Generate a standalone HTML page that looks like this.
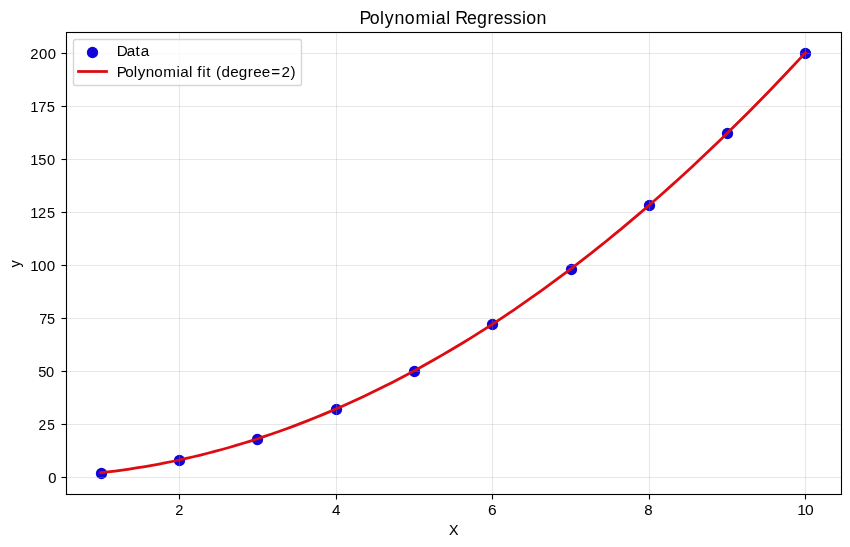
<!DOCTYPE html>
<html><head><meta charset="utf-8"><title>Polynomial Regression</title>
<style>html,body{margin:0;padding:0;background:#fff;width:850px;height:547px;overflow:hidden}svg{display:block}</style>
</head><body><svg width="850" height="547" viewBox="0 0 850 547" style="will-change:transform"><rect width="850" height="547" fill="#fff"/><g fill="#1004d8"><circle cx="101.5" cy="473.5" r="5.66"/><circle cx="179.5" cy="460.5" r="5.66"/><circle cx="257.5" cy="439.5" r="5.66"/><circle cx="336.5" cy="409.5" r="5.66"/><circle cx="414.5" cy="371.5" r="5.66"/><circle cx="492.5" cy="324.5" r="5.66"/><circle cx="571.5" cy="269.5" r="5.66"/><circle cx="649.5" cy="205.5" r="5.66"/><circle cx="727.5" cy="133.5" r="5.66"/><circle cx="805.5" cy="53.5" r="5.66"/></g><g stroke="#b0b0b0" stroke-opacity="0.3" stroke-width="1.11"><line x1="179.5" y1="32.5" x2="179.5" y2="494.5"/><line x1="336.5" y1="32.5" x2="336.5" y2="494.5"/><line x1="492.5" y1="32.5" x2="492.5" y2="494.5"/><line x1="649.5" y1="32.5" x2="649.5" y2="494.5"/><line x1="805.5" y1="32.5" x2="805.5" y2="494.5"/><line x1="66.5" y1="477.5" x2="841.5" y2="477.5"/><line x1="66.5" y1="424.5" x2="841.5" y2="424.5"/><line x1="66.5" y1="371.5" x2="841.5" y2="371.5"/><line x1="66.5" y1="318.5" x2="841.5" y2="318.5"/><line x1="66.5" y1="265.5" x2="841.5" y2="265.5"/><line x1="66.5" y1="212.5" x2="841.5" y2="212.5"/><line x1="66.5" y1="159.5" x2="841.5" y2="159.5"/><line x1="66.5" y1="106.5" x2="841.5" y2="106.5"/><line x1="66.5" y1="53.5" x2="841.5" y2="53.5"/></g><polyline points="100.88,472.72 108.00,471.92 115.11,471.04 122.23,470.09 129.35,469.08 136.46,467.99 143.58,466.83 150.70,465.60 157.81,464.31 164.93,462.94 172.05,461.50 179.16,459.99 186.28,458.42 193.40,456.77 200.51,455.05 207.63,453.26 214.75,451.40 221.86,449.48 228.98,447.48 236.10,445.41 243.21,443.27 250.33,441.06 257.45,438.78 264.56,436.43 271.68,434.01 278.80,431.53 285.91,428.97 293.03,426.34 300.15,423.64 307.26,420.87 314.38,418.03 321.50,415.12 328.61,412.14 335.73,409.09 342.85,405.97 349.96,402.77 357.08,399.51 364.20,396.18 371.31,392.78 378.43,389.31 385.54,385.77 392.66,382.16 399.78,378.48 406.89,374.73 414.01,370.90 421.13,367.01 428.24,363.05 435.36,359.02 442.48,354.92 449.59,350.74 456.71,346.50 463.83,342.19 470.94,337.81 478.06,333.35 485.18,328.83 492.29,324.24 499.41,319.57 506.53,314.84 513.64,310.04 520.76,305.16 527.88,300.22 534.99,295.21 542.11,290.12 549.23,284.97 556.34,279.74 563.46,274.45 570.58,269.09 577.69,263.65 584.81,258.15 591.93,252.57 599.04,246.93 606.16,241.21 613.28,235.43 620.39,229.57 627.51,223.65 634.63,217.65 641.74,211.59 648.86,205.45 655.98,199.24 663.09,192.97 670.21,186.62 677.33,180.21 684.44,173.72 691.56,167.16 698.68,160.54 705.79,153.84 712.91,147.07 720.03,140.24 727.14,133.33 734.26,126.35 741.38,119.30 748.49,112.19 755.61,105.00 762.73,97.74 769.84,90.41 776.96,83.02 784.08,75.55 791.19,68.01 798.31,60.40 805.43,52.72" fill="none" stroke="#dc0c12" stroke-width="2.78" stroke-linejoin="round" stroke-linecap="square"/><rect x="66.5" y="32.5" width="775.0" height="462.0" fill="none" stroke="#000" stroke-width="1.11"/><g stroke="#000" stroke-width="1.11"><line x1="179.5" y1="494.5" x2="179.5" y2="499.50"/><line x1="336.5" y1="494.5" x2="336.5" y2="499.50"/><line x1="492.5" y1="494.5" x2="492.5" y2="499.50"/><line x1="649.5" y1="494.5" x2="649.5" y2="499.50"/><line x1="805.5" y1="494.5" x2="805.5" y2="499.50"/><line x1="66.5" y1="477.5" x2="61.50" y2="477.5"/><line x1="66.5" y1="424.5" x2="61.50" y2="424.5"/><line x1="66.5" y1="371.5" x2="61.50" y2="371.5"/><line x1="66.5" y1="318.5" x2="61.50" y2="318.5"/><line x1="66.5" y1="265.5" x2="61.50" y2="265.5"/><line x1="66.5" y1="212.5" x2="61.50" y2="212.5"/><line x1="66.5" y1="159.5" x2="61.50" y2="159.5"/><line x1="66.5" y1="106.5" x2="61.50" y2="106.5"/><line x1="66.5" y1="53.5" x2="61.50" y2="53.5"/></g><rect x="73.5" y="39.5" width="228" height="46" rx="2.2" fill="#fff" fill-opacity="0.8" stroke="#cccccc" stroke-opacity="0.8" stroke-width="1.4"/><circle cx="92.5" cy="52.5" r="5.66" fill="#1004d8"/><line x1="78.5" y1="71.5" x2="106.5" y2="71.5" stroke="#dc0c12" stroke-width="2.78" stroke-linecap="square"/><g font-family="Liberation Sans, sans-serif" fill="#000"><text transform="matrix(1.0072 0 0 1 0 23.600)" x="356.99 367.06 377.29 382.02 391.72 401.93 412.58 428.16 432.68 443.09 447.38 452.04 463.72 473.63 483.99 490.18 500.16 509.14 518.16 522.56 532.68" y="0" font-size="17.660" stroke="#000" stroke-width="0.007">Polynomial Regression</text><text transform="matrix(1.0740 0 0 1 0 55.760)" x="108.73 118.12 126.05 131.13" y="0" font-size="14.220" stroke="#000" stroke-width="0.012">Data</text><text transform="matrix(1.0740 0 0 1 0 76.700)" x="108.72 116.69 124.53 128.20 135.78 143.62 152.08 164.46 167.91 176.09 179.56 183.74 188.30 191.93 197.02 201.09 206.22 214.45 222.40 230.68 235.75 243.67 252.52 262.06 270.46" y="0" font-size="14.195">Polynomial fit (degree=2)</text><text transform="matrix(1.0400 0 0 1 0 534.800)" x="431.79" y="0" font-size="13.720" stroke="#000" stroke-width="0.075">X</text><text stroke="#000" stroke-width="0.018" font-size="14.220" transform="translate(20.200,264.000) rotate(-90)" text-anchor="middle" textLength="7.220" lengthAdjust="spacingAndGlyphs">y</text><text transform="matrix(1.0604 0 0 1 0 515.200)" x="165.39" y="0" font-size="13.845" stroke="#000" stroke-width="0.012">2</text><text transform="matrix(1.0600 0 0 1 0 515.200)" x="313.18" y="0" font-size="14.470">4</text><text transform="matrix(1.0952 0 0 1 0 515.200)" x="445.68" y="0" font-size="14.220" stroke="#000" stroke-width="0.012">6</text><text transform="matrix(1.0600 0 0 1 0 515.200)" x="607.81" y="0" font-size="14.220" stroke="#000" stroke-width="0.037">8</text><text transform="matrix(1.0800 0 0 1 0 515.200)" x="738.30 745.49" y="0" font-size="14.445">10</text><text transform="matrix(1.0600 0 0 1 0 483.100)" x="45.64" y="0" font-size="13.970" stroke="#000" stroke-width="0.082">0</text><text transform="matrix(1.0000 0 0 1 0 430.100)" x="38.40 47.28" y="0" font-size="13.720" stroke="#000" stroke-width="0.007">25</text><text transform="matrix(1.0620 0 0 1 0 377.100)" x="35.97 43.41" y="0" font-size="13.795">50</text><text transform="matrix(1.0352 0 0 1 0 324.100)" x="37.96 45.52" y="0" font-size="14.070">75</text><text transform="matrix(1.0560 0 0 1 0 270.500)" x="28.69 36.04 44.32" y="0" font-size="14.330" stroke="#000" stroke-width="0.030">100</text><text transform="matrix(1.0196 0 0 1 0 218.100)" x="29.77 37.19 46.19" y="0" font-size="14.340">125</text><text transform="matrix(1.0352 0 0 1 0 165.100)" x="29.30 37.02 45.53" y="0" font-size="14.195">150</text><text transform="matrix(1.0520 0 0 1 0 112.100)" x="28.80 36.43 44.43" y="0" font-size="14.070">175</text><text transform="matrix(1.0800 0 0 1 0 59.100)" x="27.96 36.23 44.33" y="0" font-size="13.785" stroke="#000" stroke-width="0.025">200</text></g></svg></body></html>
